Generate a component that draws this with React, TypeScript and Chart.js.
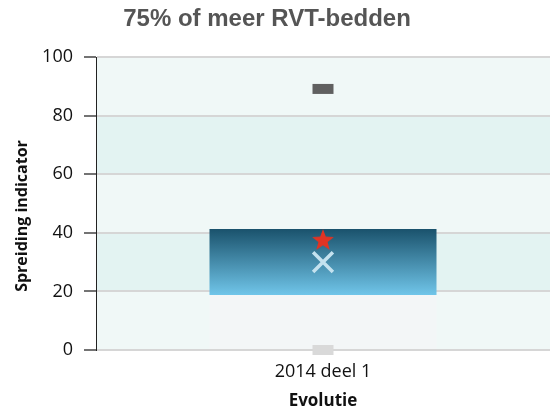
import React, { useEffect, useRef } from "react";
import { Chart, registerables } from "chart.js";
Chart.register(...registerables);

const categories = ["2014 deel 1"];
const lowerStart = [0];
const q1 = [18.8];
const q3 = [41.3];
const maxVals = [89.1];
const minVals = [0];
const starVals = [37.5];
const crossVals = [30.0];
const yTicks = [0, 20, 40, 60, 80, 100];
const titleText = "75% of meer RVT-bedden";
const yTitle = "Spreiding indicator";
const xTitle = "Evolutie";

const bandLight = "#f0f8f7";
const bandDark = "#e3f3f2";

function makeStar(): HTMLCanvasElement {
  const c = document.createElement("canvas");
  c.width = 24;
  c.height = 24;
  const g = c.getContext("2d")!;
  const cx = 12, cy = 12.5, R = 11.5, r = 4.8;
  g.beginPath();
  for (let i = 0; i < 10; i++) {
    const rad = i % 2 === 0 ? R : r;
    const a = -Math.PI / 2 + (i * Math.PI) / 5;
    const x = cx + Math.cos(a) * rad;
    const y = cy + Math.sin(a) * rad;
    if (i === 0) g.moveTo(x, y);
    else g.lineTo(x, y);
  }
  g.closePath();
  g.fillStyle = "#e03424";
  g.fill();
  return c;
}

const bandsPlugin = {
  id: "bands",
  beforeDraw(chart: any) {
    const y = chart.scales.y;
    const area = chart.chartArea;
    if (!y || !area) return;
    const c = chart.ctx;
    c.save();
    for (let i = 0; i < yTicks.length - 1; i++) {
      const top = y.getPixelForValue(yTicks[i + 1]);
      const bot = y.getPixelForValue(yTicks[i]);
      c.fillStyle = i % 2 === 0 ? bandLight : bandDark;
      c.fillRect(area.left, top, area.right - area.left, bot - top);
    }
    c.restore();
  },
};

const textPlugin = {
  id: "customTexts",
  afterDraw(chart: any) {
    const c = chart.ctx;
    c.save();
    c.font = 'bold 24px "Liberation Sans", Arial, sans-serif';
    c.fillStyle = "#555555";
    c.textAlign = "center";
    c.textBaseline = "alphabetic";
    c.fillText(titleText, 267, 26);
    c.restore();

    c.save();
    c.translate(22, 216);
    c.rotate(-Math.PI / 2);
    c.font = 'bold 16px "Open Sans", sans-serif';
    c.fillStyle = "#111";
    c.textAlign = "center";
    c.textBaseline = "middle";
    c.fillText(yTitle, 0, 0);
    c.restore();
  },
};

export default function App() {
  const ref = useRef<HTMLCanvasElement | null>(null);
  useEffect(() => {
    if (!ref.current) return;
    const star = makeStar();
    const chart = new Chart(ref.current, {
      type: "bar",
      data: {
        labels: categories,
        datasets: [
          {
            type: "line",
            data: maxVals,
            showLine: false,
            pointStyle: "line",
            pointRadius: 10.5,
            pointHoverRadius: 10.5,
            pointBorderWidth: 10,
            pointBorderColor: "#606060",
            pointBackgroundColor: "#606060",
            clip: false,
            order: 0,
          } as any,
          {
            type: "line",
            data: minVals,
            showLine: false,
            pointStyle: "line",
            pointRadius: 10.5,
            pointHoverRadius: 10.5,
            pointBorderWidth: 10,
            pointBorderColor: "#d9d9d9",
            pointBackgroundColor: "#d9d9d9",
            clip: false,
            order: 1,
          } as any,
          {
            type: "line",
            data: starVals,
            showLine: false,
            pointStyle: star,
            pointRadius: 12,
            clip: false,
            order: 0,
          } as any,
          {
            type: "line",
            data: crossVals,
            showLine: false,
            pointStyle: "crossRot",
            pointRadius: 14,
            pointHoverRadius: 14,
            pointBorderWidth: 3.5,
            pointBorderColor: "#c4e2ef",
            clip: false,
            order: 1,
          } as any,
          {
            type: "bar",
            data: q1.map((v, i) => [v, q3[i]]),
            grouped: false,
            barPercentage: 0.5,
            categoryPercentage: 1,
            borderWidth: 0,
            backgroundColor: (ctx: any) => {
              const chart = ctx.chart;
              const y = chart.scales && chart.scales.y;
              if (!y) return "#3a7fa0";
              const i = ctx.dataIndex ?? 0;
              const top = y.getPixelForValue(q3[i]);
              const bot = y.getPixelForValue(q1[i]);
              if (!isFinite(top) || !isFinite(bot) || top === bot) return "#3a7fa0";
              const g = chart.ctx.createLinearGradient(0, top, 0, bot);
              g.addColorStop(0, "#1a526c");
              g.addColorStop(1, "#70c5e9");
              return g;
            },
            order: 5,
          } as any,
          {
            type: "bar",
            data: lowerStart.map((v, i) => [v, q1[i]]),
            grouped: false,
            barPercentage: 0.5,
            categoryPercentage: 1,
            borderWidth: 0,
            backgroundColor: "#f3f6f7",
            order: 6,
          } as any,
        ],
      },
      options: {
        responsive: false,
        animation: false,
        layout: { autoPadding: false, padding: { top: 57, right: 0, left: 0, bottom: 0 } },
        plugins: {
          legend: { display: false },
          tooltip: { enabled: false },
          title: { display: false },
        },
        scales: {
          x: {
            type: "category",
            grid: { display: false, drawTicks: false },
            border: { display: false },
            ticks: {
              padding: 11,
              color: "#111",
              font: { family: '"Open Sans", sans-serif', size: 18 },
            },
            title: {
              display: true,
              text: xTitle,
              color: "#111",
              font: { family: '"Open Sans", sans-serif', size: 17, weight: "bold" },
              padding: { top: 0, bottom: 5 },
            },
            afterFit(scale: any) {
              scale.height = 66;
              scale.paddingLeft = 0;
              scale.paddingRight = 0;
            },
          },
          y: {
            min: 0,
            max: 100,
            afterBuildTicks(scale: any) {
              scale.ticks = yTicks.map((v) => ({ value: v }));
            },
            grid: {
              color: "#d6d6d6",
              lineWidth: 2,
              tickColor: "#444",
              tickLength: 12,
              tickWidth: 1.5,
            },
            border: { display: true, color: "#222", width: 1 },
            ticks: {
              padding: 11,
              color: "#111",
              font: { family: '"Open Sans", sans-serif', size: 18 },
            },
            title: { display: false },
            afterFit(scale: any) {
              scale.width = 96;
            },
          },
        },
      },
      plugins: [bandsPlugin, textPlugin],
    });
    return () => chart.destroy();
  }, []);
  return (
    <div style={{ position: "absolute", left: 0, top: 0, width: 550, height: 416 }}>
      <canvas ref={ref} width={550} height={416} style={{ width: 550, height: 416 }} />
    </div>
  );
}
